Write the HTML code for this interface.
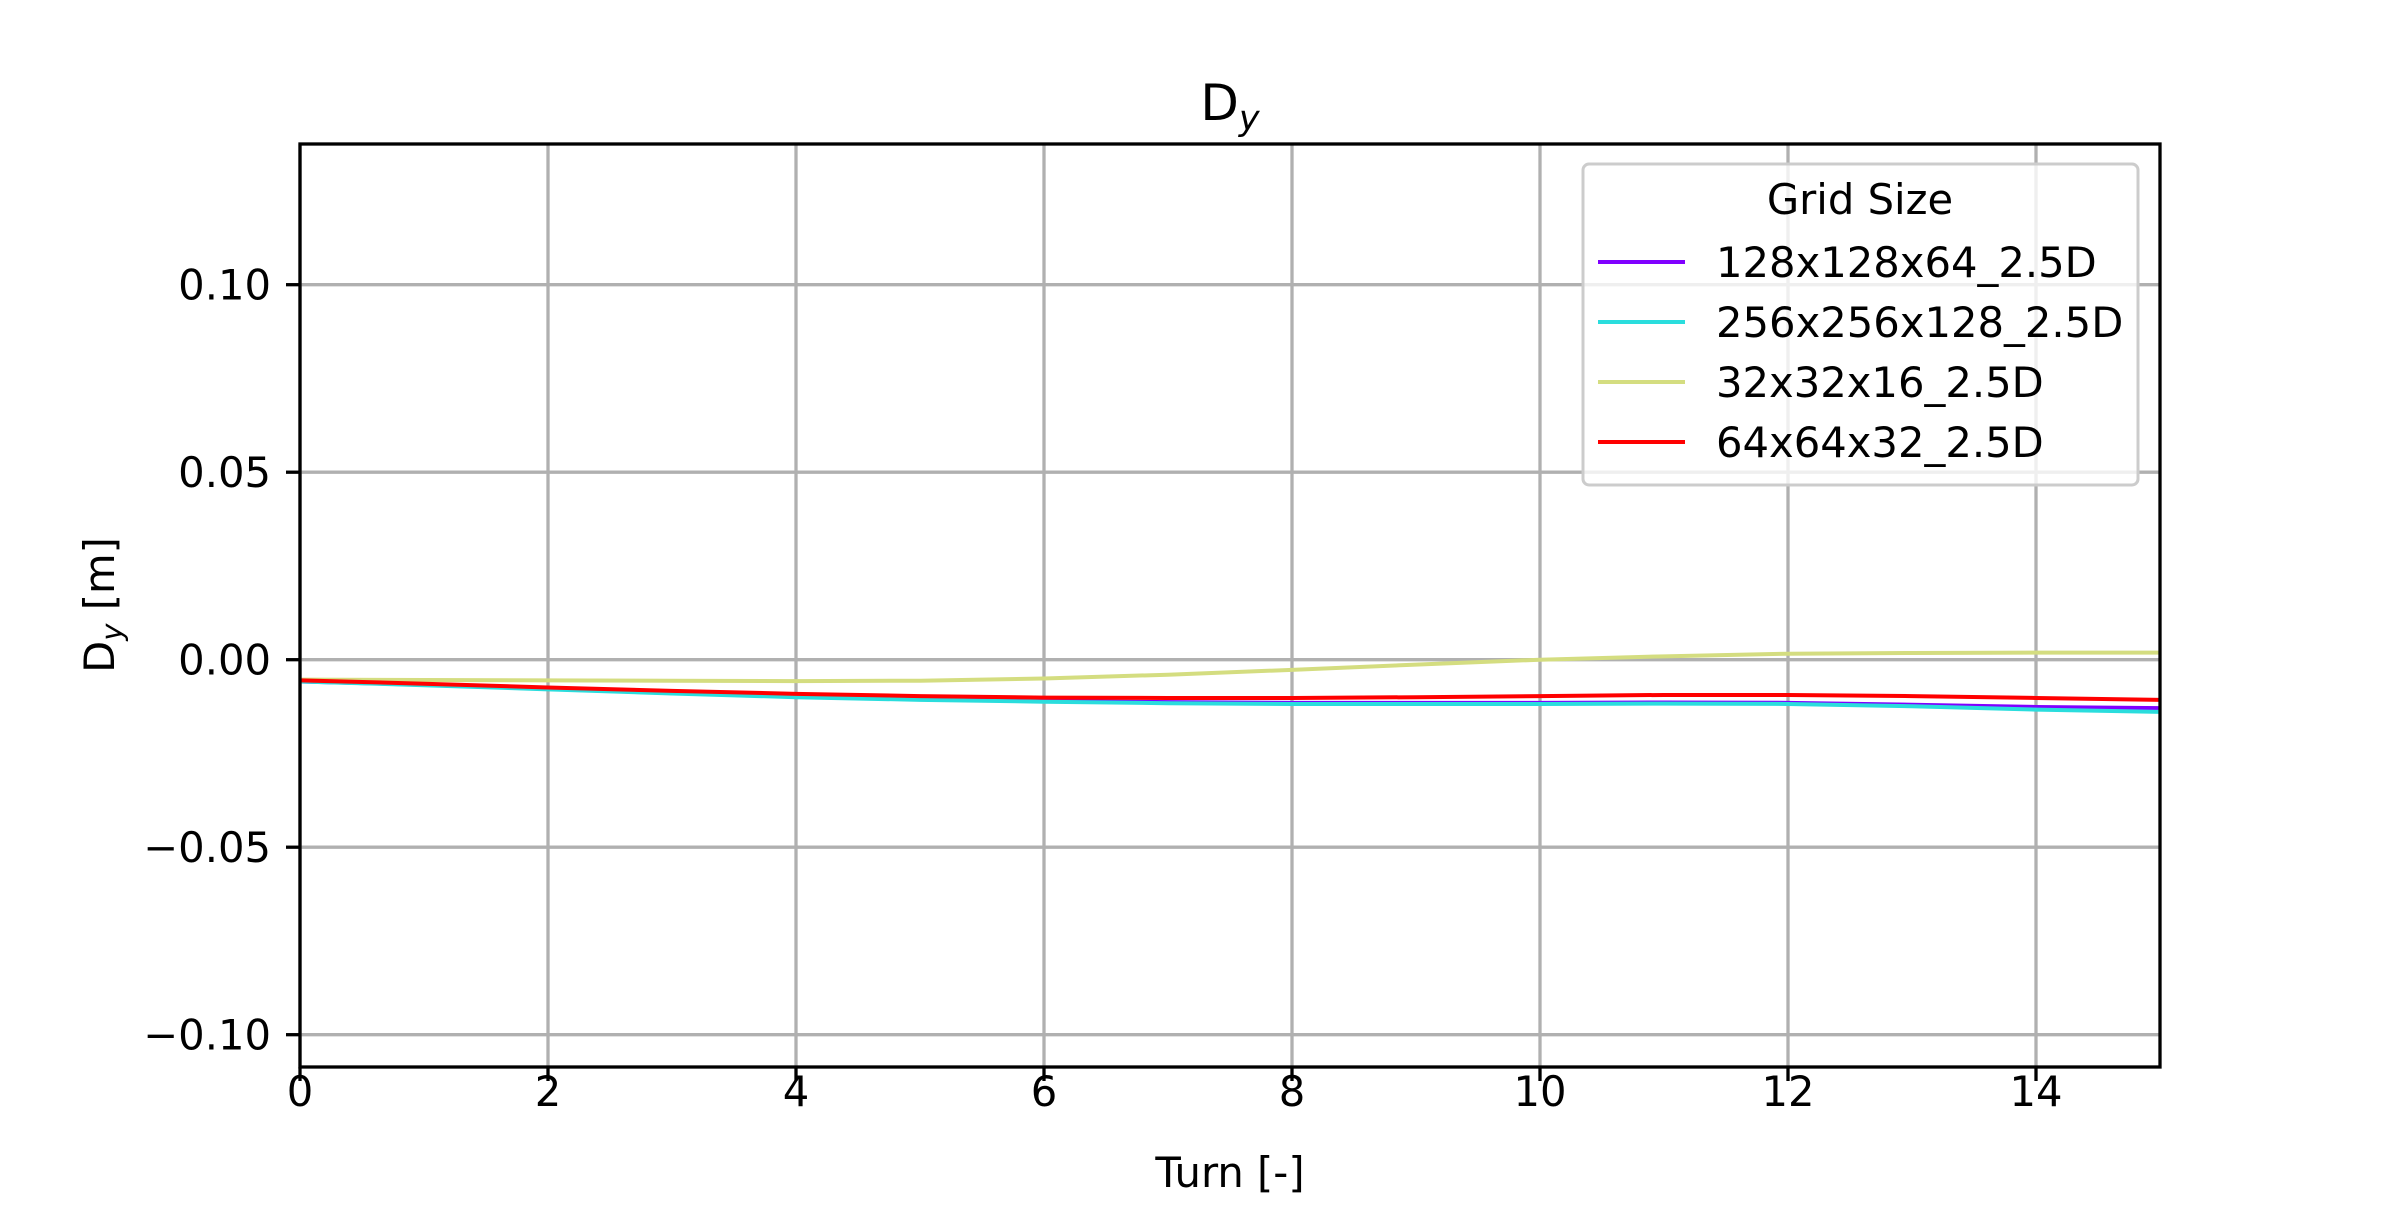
<!DOCTYPE html>
<html><head><meta charset="utf-8"><style>
body{margin:0;background:#fff}
svg text{font-family:"DejaVu Sans","Liberation Sans",sans-serif;fill:#000}
</style></head><body>
<svg id="chart" width="2400" height="1200" xmlns="http://www.w3.org/2000/svg">
<rect width="2400" height="1200" fill="#fff"/>
<g id="grid"></g>
<g id="series"></g>
<rect x="300" y="144" width="1860" height="923" fill="none" stroke="#000" stroke-width="3.3"/>
<g id="ticks"></g>
<text x="1230" y="120" font-size="50" text-anchor="middle">D<tspan font-size="35" dy="10" font-style="italic">y</tspan></text>
<text x="1230" y="1187" font-size="41.7" text-anchor="middle">Turn [-]</text>
<text transform="translate(114,605) rotate(-90)" font-size="41.7" text-anchor="middle">D<tspan font-size="29" dy="8" font-style="italic">y</tspan><tspan dy="-8"> [m]</tspan></text>
<g id="legend">
<rect x="1583" y="164" width="555" height="321" rx="6" fill="#fff" fill-opacity="0.8" stroke="#ccc" stroke-width="3"/>
<text x="1860" y="214" font-size="41.7" text-anchor="middle">Grid Size</text>
</g>
</svg>
<script>
const xTicks=[0,2,4,6,8,10,12,14];
const yTicks=[-0.10,-0.05,0.00,0.05,0.10];
const yTickLabels=["\u22120.10","\u22120.05","0.00","0.05","0.10"];
const turns=[0,1,2,3,4,5,6,7,8,9,10,11,12,13,14,15];
const s128=[-0.0058,-0.0067,-0.0078,-0.0089,-0.0098,-0.0105,-0.0110,-0.0113,-0.0115,-0.0115,-0.0115,-0.0114,-0.0115,-0.0120,-0.0126,-0.0129];
const s256=[-0.0058,-0.0068,-0.0079,-0.0090,-0.0100,-0.0107,-0.0112,-0.0116,-0.0118,-0.0118,-0.0118,-0.0117,-0.0118,-0.0124,-0.0133,-0.0139];
const s32=[-0.0053,-0.0054,-0.0055,-0.0056,-0.0057,-0.0056,-0.0050,-0.0040,-0.0027,-0.0013,0.0000,0.0009,0.0016,0.0018,0.0019,0.0019];
const s64=[-0.0055,-0.0064,-0.0074,-0.0083,-0.0091,-0.0097,-0.0101,-0.0102,-0.0102,-0.0100,-0.0097,-0.0094,-0.0094,-0.0097,-0.0102,-0.0107];
const seriesNames=["128x128x64_2.5D","256x256x128_2.5D","32x32x16_2.5D","64x64x32_2.5D"];
const seriesColors=["#8000ff","#2adddd","#d4dd80","#ff0000"];
const seriesData=[s128,s256,s32,s64];
const X=v=>300+v/15*1860;
const Y=v=>659.7-v*3750;
const NS="http://www.w3.org/2000/svg";
function mk(t,a,p){const e=document.createElementNS(NS,t);for(const k in a)e.setAttribute(k,a[k]);p.appendChild(e);return e;}
const grid=document.getElementById('grid'),ticks=document.getElementById('ticks'),ser=document.getElementById('series'),leg=document.getElementById('legend');
xTicks.forEach(t=>{
 const l=mk('line',{x1:X(t),x2:X(t),y1:144,y2:1067,stroke:'#b0b0b0','stroke-width':3.3},grid);
 
 
 mk('line',{x1:X(t),x2:X(t),y1:1067,y2:1081,stroke:'#000','stroke-width':3.3},ticks);
 const tx=mk('text',{x:X(t),y:1106,'font-size':41.7,'text-anchor':'middle'},ticks);tx.textContent=t;
 
 
});
yTicks.forEach((t,i)=>{
 const l=mk('line',{x1:300,x2:2160,y1:Y(t),y2:Y(t),stroke:'#b0b0b0','stroke-width':3.3},grid);
 
 
 mk('line',{x1:286,x2:300,y1:Y(t),y2:Y(t),stroke:'#000','stroke-width':3.3},ticks);
 const tx=mk('text',{x:271,y:Y(t)+15,'font-size':41.7,'text-anchor':'end'},ticks);tx.textContent=yTickLabels[i];
 
 
});
seriesData.forEach((d,i)=>{
 const p=mk('polyline',{points:d.map((v,j)=>X(turns[j])+','+Y(v)).join(' '),fill:'none',stroke:seriesColors[i],'stroke-width':4,'stroke-linejoin':'round'},ser);
 
 
 const ly=262+i*60;
 const ll=mk('line',{x1:1598,x2:1685,y1:ly,y2:ly,stroke:seriesColors[i],'stroke-width':4},leg);
 
 
 const lt=mk('text',{x:1716,y:ly+15,'font-size':41.7},leg);lt.textContent=seriesNames[i];
 
 
});
</script>
</body></html>
